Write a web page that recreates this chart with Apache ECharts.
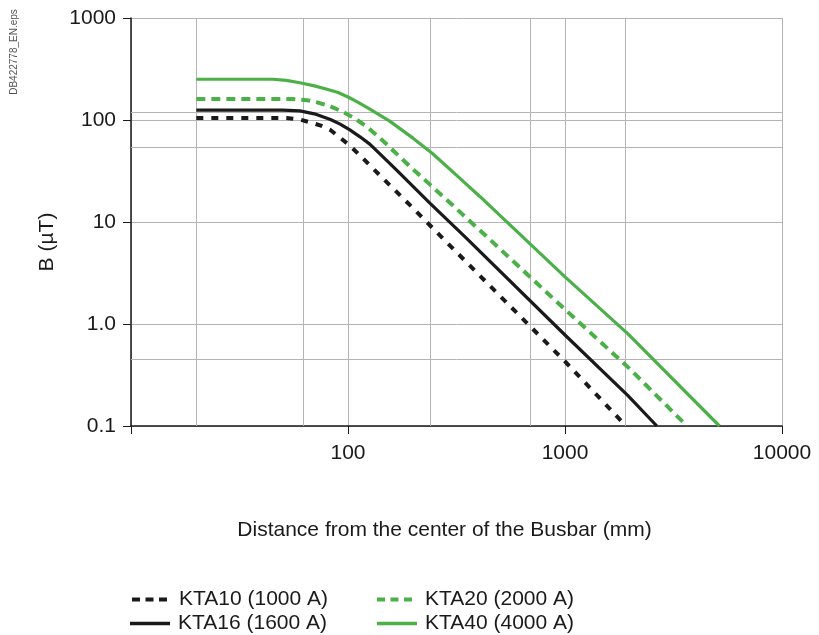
<!DOCTYPE html>
<html><head><meta charset="utf-8">
<script src="https://cdn.jsdelivr.net/npm/echarts@6/dist/echarts.min.js"></script>
<style>html,body{margin:0;padding:0;background:#fff}#c{width:819px;height:635px}</style>
</head><body><div id="c"></div>
<script>
// ---- data ----
const seriesNames = ['KTA10 (1000 A)', 'KTA16 (1600 A)', 'KTA20 (2000 A)', 'KTA40 (4000 A)'];

const kta10X = [20, 52, 60, 69, 75, 83, 92, 102, 116, 143, 200, 270, 1000, 1870];
const kta10Y = [104.6, 104.6, 101, 93, 88, 79.8, 67, 56, 43, 27.5, 13.6, 7.1, 0.43, 0.105];

const kta16X = [20, 50, 60, 70, 83, 92, 102, 114, 126, 145, 168, 239, 352, 1000, 1945, 2650];
const kta16Y = [125, 125, 123, 115, 101, 91, 80, 68, 58, 43.5, 32, 15.2, 6.9, 0.78, 0.2, 0.1];

const kta20X = [20, 55, 65, 72, 83, 95, 108, 122, 140, 193, 275, 436, 1000, 1945, 3650];
const kta20Y = [161, 161, 156, 149, 136, 120, 103, 86, 67, 35, 17.7, 7.18, 1.39, 0.38, 0.1];

const kta40X = [20, 45, 52, 60, 70, 80, 90, 100, 112, 125, 155, 200, 245, 330, 405, 1000, 1950, 5150];
const kta40Y = [251, 251, 245, 232, 216, 200, 186, 168, 148, 129, 98, 66, 47, 26.5, 17.8, 2.9, 0.8, 0.1];

const xTickLabels = ['', '100', '1000', '10000'];      // ticks at 10, 100, 1000, 10000
const yTickLabels = ['0.1', '1.0', '10', '100', '1000']; // ticks at 0.1 ... 1000
const extraGridX = [20, 62, 240, 690, 1900];
const extraGridY = [0.45, 54, 120];

const xTitle = 'Distance from the center of the Busbar (mm)';
const yTitle = 'B (µT)';
const docCode = 'DB422778_EN.eps';

// ---- chart ----
const FONT = '"Liberation Sans", Arial, sans-serif';
const FS = 21;
const BLACK = '#1a1a1a';
const GREEN = '#4cb048';
const zip = (xs, ys) => xs.map((x, i) => [x, ys[i]]);

function lineSeries(name, xs, ys, color, dashed) {
  return {
    name, type: 'line', data: zip(xs, ys), z: 5,
    showSymbol: false, symbol: 'none', smooth: false,
    lineStyle: { color, width: dashed ? 4 : 3.2, type: dashed ? (color === BLACK ? [7, 8] : [9, 6]) : 'solid' },
    itemStyle: { color }
  };
}

const DASH_ICON = 'path://M0,0h8v4h-8z M13.5,0h8v4h-8z M27,0h8v4h-8z';
const SOLID_ICON = 'path://M0,0h40v3.6h-40z';

function legendItem(name, left, top, color, dashed, textPad) {
  return {
    data: [name], left, top, padding: 0, selectedMode: false,
    icon: dashed ? DASH_ICON : SOLID_ICON,
    itemWidth: dashed ? 35 : 40, itemHeight: dashed ? 4 : 3.6,
    itemStyle: { color, borderWidth: 0 },
    textStyle: { fontSize: FS, color: BLACK, fontFamily: FONT, padding: [0, 0, 0, textPad] }
  };
}

const chart = echarts.init(document.getElementById('c'), null, { renderer: 'canvas' });
chart.setOption({
  animation: false,
  backgroundColor: '#fff',
  textStyle: { fontFamily: FONT },
  grid: { left: 131, right: 37, top: 18, bottom: 209, containLabel: false },
  xAxis: {
    type: 'log', logBase: 10, min: 10, max: 10000,
    name: xTitle, nameLocation: 'middle', nameGap: 94,
    nameTextStyle: { fontSize: FS, color: BLACK, fontFamily: FONT, padding: [0, 24, 0, 0] },
    axisLine: { show: true, lineStyle: { color: BLACK, width: 1.5 } },
    axisTick: { show: true, length: 8, inside: false, lineStyle: { color: BLACK, width: 1 } },
    axisLabel: {
      fontSize: FS, color: BLACK, margin: 17, fontFamily: FONT,
      formatter: v => xTickLabels[Math.round(Math.log10(v)) - 1] || ''
    },
    splitLine: { show: true, lineStyle: { color: '#b4b4b4', width: 1 } },
    minorTick: { show: false }, minorSplitLine: { show: false }
  },
  yAxis: {
    type: 'log', logBase: 10, min: 0.1, max: 1000,
    axisLine: { show: true, onZero: false, lineStyle: { color: BLACK, width: 1.5 } },
    axisTick: { show: true, length: 8, inside: false, lineStyle: { color: BLACK, width: 1 } },
    axisLabel: {
      fontSize: FS, color: BLACK, margin: 15, fontFamily: FONT,
      formatter: v => yTickLabels[Math.round(Math.log10(v)) + 1] || ''
    },
    splitLine: { show: true, lineStyle: { color: '#b4b4b4', width: 1 } }
  },
  legend: [
    legendItem(seriesNames[0], 132, 589, BLACK, true, 7),
    legendItem(seriesNames[1], 130, 613, BLACK, false, 3),
    legendItem(seriesNames[2], 377, 589, GREEN, true, 8),
    legendItem(seriesNames[3], 377, 613, GREEN, false, 3)
  ],
  graphic: [
    {
      type: 'text', x: 47, y: 242, rotation: Math.PI / 2,
      style: { text: yTitle, font: FS + 'px ' + FONT, fill: BLACK, textAlign: 'center', textVerticalAlign: 'middle' }
    },
    {
      type: 'text', x: 14, y: 52, rotation: Math.PI / 2,
      style: { text: docCode, font: '10px ' + FONT, fill: '#555', textAlign: 'center', textVerticalAlign: 'middle' }
    }
  ],
  series: [
    {
      name: 'grid-extra', type: 'line', data: [], z: 1, silent: true,
      markLine: {
        silent: true, symbol: 'none', animation: false,
        label: { show: false },
        lineStyle: { color: '#b4b4b4', width: 1, type: 'solid' },
        data: extraGridX.map(v => ({ xAxis: v })).concat(extraGridY.map(v => ({ yAxis: v })))
      }
    },
    lineSeries(seriesNames[0], kta10X, kta10Y, BLACK, true),
    lineSeries(seriesNames[1], kta16X, kta16Y, BLACK, false),
    lineSeries(seriesNames[2], kta20X, kta20Y, GREEN, true),
    lineSeries(seriesNames[3], kta40X, kta40Y, GREEN, false)
  ]
});
</script></body></html>
